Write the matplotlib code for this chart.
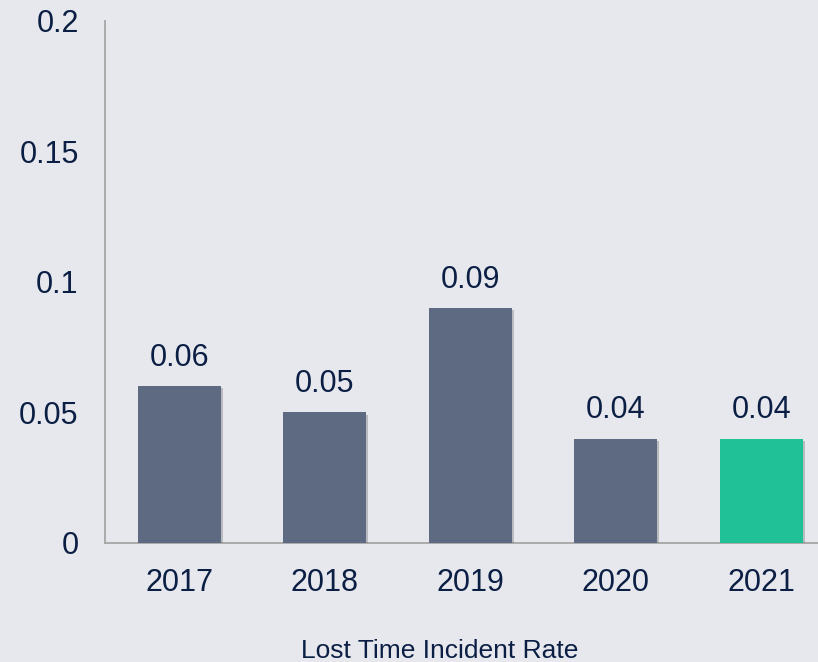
import matplotlib
matplotlib.use("Agg")
import matplotlib.pyplot as plt
import matplotlib.patheffects as pe

years = ["2017", "2018", "2019", "2020", "2021"]
rates = [0.06, 0.05, 0.09, 0.04, 0.04]
bar_colors = ["#5E6A81", "#5E6A81", "#5E6A81", "#5E6A81", "#20C197"]
yticks = [0, 0.05, 0.1, 0.15, 0.2]
ytick_labels = ["0", "0.05", "0.1", "0.15", "0.2"]
xlabel = "Lost Time Incident Rate"

bg = "#E7E8EE"
text_color = "#0B1F44"

plt.rcParams["font.family"] = ["Liberation Sans", "DejaVu Sans"]

fig = plt.figure(figsize=(8.18, 6.62), dpi=100, facecolor=bg)
ax = fig.add_axes([0.1284, 0.1798, 0.8716, 0.7885], facecolor=bg)

x = range(len(years))
bars = ax.bar(x, rates, width=0.57, color=bar_colors, zorder=3)
for b in bars:
    b.set_path_effects([pe.SimplePatchShadow(offset=(1.5, -1.5), shadow_rgbFace="#555555", alpha=0.3),
                        pe.Normal()])

for xi, v in zip(x, rates):
    ax.annotate(f"{v:.2f}", (xi, v), xytext=(0, 9.5), textcoords="offset points",
                ha="center", va="bottom", fontsize=22, color=text_color)

ax.set_xlim(-0.51, 4.39)
ax.set_ylim(0, 0.2)
ax.set_yticks(yticks)
ax.set_yticklabels(ytick_labels)
ax.set_xticks(list(x))
ax.set_xticklabels(years)
ax.tick_params(axis="both", length=0, labelsize=22, labelcolor=text_color)
ax.tick_params(axis="y", pad=19)
ax.tick_params(axis="x", pad=18)

for s in ["top", "right"]:
    ax.spines[s].set_visible(False)
for s in ["left", "bottom"]:
    ax.spines[s].set_color("#A6A6A6")
    ax.spines[s].set_linewidth(1.3)

fig.text(0.538, 0.006, xlabel, ha="center", va="baseline", fontsize=19, color=text_color)

fig.savefig("out.png", dpi=100, facecolor=bg)
